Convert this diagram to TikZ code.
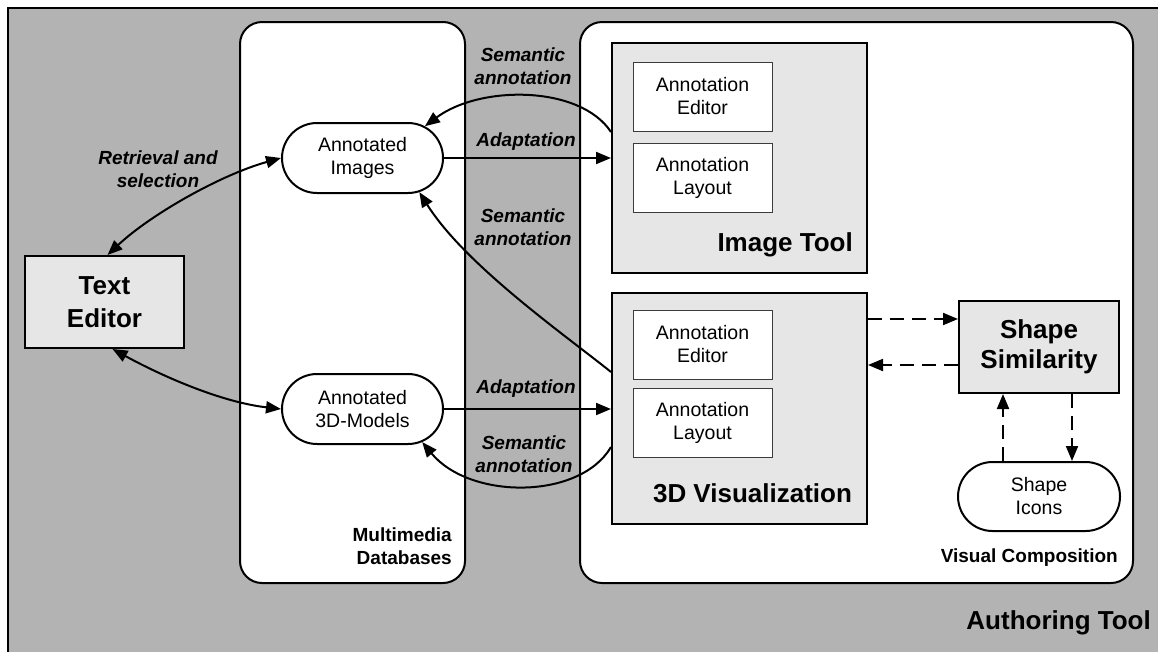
\documentclass[tikz,border=0pt]{standalone}
\usepackage{fontspec}
\setmainfont{Liberation Sans}
\usetikzlibrary{arrows.meta,shapes.misc,calc}
\definecolor{outergray}{RGB}{179,179,179}
\definecolor{boxgray}{RGB}{230,230,230}
\definecolor{thinline}{RGB}{60,60,60}
\begin{document}
\begin{tikzpicture}[x=1pt,y=-1pt,
  >={Triangle[length=15pt,width=12pt]},
  container/.style={draw, line width=2pt, fill=white, rounded corners=22pt, inner sep=0pt},
  toolbox/.style={draw, line width=2pt, fill=boxgray, inner sep=0pt},
  subbox/.style={draw=thinline, line width=1pt, fill=white, inner sep=0pt,
    minimum width=139pt, minimum height=69pt, align=center,
    font=\fontsize{19.5}{23}\selectfont},
  stadium/.style={draw, line width=2pt, fill=white, rounded rectangle, inner sep=0pt,
    minimum width=161pt, minimum height=70pt, align=center,
    font=\fontsize{19.5}{23}\selectfont},
  biglbl/.style={inner sep=0pt, font=\fontsize{26}{30}\selectfont\bfseries, align=center},
  smalllbl/.style={inner sep=0pt, font=\fontsize{19}{23}\selectfont\bfseries, align=right},
  edgelbl/.style={inner sep=0pt, font=\fontsize{19}{23}\selectfont\bfseries\itshape, align=center},
  conn/.style={line width=2pt},
  dconn/.style={line width=2pt, dash pattern=on 14pt off 8pt}
]
\useasboundingbox (0,0) rectangle (1158,651);
% outer frame
\draw[line width=2pt, fill=outergray] (8,8) rectangle (1180,680);
\node[smalllbl, font=\fontsize{26}{30}\selectfont\bfseries, anchor=east] (authlbl) at (1151,623) {Authoring Tool};

% containers
\node[container, minimum width=225pt, minimum height=561pt] (mmdb) at (352.5,302.5) {};
\node[container, minimum width=553pt, minimum height=561pt] (vc) at (856.5,302.5) {};
\node[smalllbl, anchor=east] (mmdblbl) at (452,546.5) {Multimedia\\Databases};
\node[smalllbl, anchor=east] (vclbl) at (1118,558) {Visual Composition};

% text editor
\node[toolbox, minimum width=159pt, minimum height=92pt, font=\fontsize{26}{33}\selectfont\bfseries, align=center] (texted) at (104.5,302) {Text\\Editor};

% annotated media
\node[stadium] (aimg) at (362.5,158) {Annotated\\Images};
\node[stadium] (a3d) at (362.5,409) {Annotated\\3D-Models};

% image tool
\node[toolbox, minimum width=255pt, minimum height=230pt] (imgtool) at (739.5,158) {};
\node[subbox] (ae1) at (702.5,96.5) {Annotation\\Editor};
\node[subbox] (al1) at (702.5,177.5) {Annotation\\Layout};
\node[biglbl, anchor=east] (imgtoollbl) at (853,245) {Image Tool};

% 3D visualization
\node[toolbox, minimum width=255pt, minimum height=231pt] (vis3d) at (739.5,408.5) {};
\node[subbox] (ae2) at (702.5,344.5) {Annotation\\Editor};
\node[subbox] (al2) at (702.5,422.5) {Annotation\\Layout};
\node[biglbl] (vis3dlbl) at (752.5,493) {3D Visualization};

% shape similarity and icons
\node[toolbox, minimum width=160pt, minimum height=92pt, font=\fontsize{26}{30}\selectfont\bfseries, align=center] (shapesim) at (1039,347) {Shape\\Similarity};
\node[stadium, minimum width=162pt, minimum height=69pt] (icons) at (1039,496.5) {Shape\\Icons};

% edge labels
\node[edgelbl] (retlbl) at (158,169) {Retrieval and\\selection};
\node[edgelbl] (sem1lbl) at (523,66.5) {Semantic\\annotation};
\node[edgelbl] (ad1lbl) at (526,142) {Adaptation};
\node[edgelbl] (sem2lbl) at (523,227) {Semantic\\annotation};
\node[edgelbl] (ad2lbl) at (526,389) {Adaptation};
\node[edgelbl] (sem3lbl) at (524,454) {Semantic\\annotation};

% connectors
\draw[conn,<->] ([xshift=3pt]texted.north) .. controls (150,215) and (220,175) .. (aimg.west);
\draw[conn,<->] ([xshift=8pt]texted.south) .. controls (160,375) and (220,402) .. (a3d.west);
\draw[conn,->] (aimg.east) -- (imgtool.west);
\draw[conn,->] (a3d.east) -- (a3d.east -| vis3d.west);
\draw[conn,->] ([yshift=26pt]imgtool.west) .. controls (580,85) and (480,85) .. (aimg.27);
\draw[conn,->] ([yshift=36.5pt]vis3d.west) .. controls (565,335) and (465,265) .. (aimg.-31);
\draw[conn,->] ([yshift=-38.5pt]vis3d.west) .. controls (580,500) and (470,500) .. (a3d.-29);

% dashed connectors
\coordinate (d1) at ([yshift=28pt]shapesim.west);
\coordinate (d2) at ([yshift=-18pt]shapesim.west);
\coordinate (d3) at ([xshift=-36pt]shapesim.south);
\coordinate (d4) at ([xshift=33pt]shapesim.south);
\draw[dconn,->] (d1 -| vis3d.east) -- (d1);
\draw[dconn,->] (d2) -- (d2 -| vis3d.east);
\draw[dconn,->] (d3 |- icons.north) -- (d3);
\draw[dconn,->] (d4) -- (d4 |- icons.north);
\end{tikzpicture}
\end{document}
